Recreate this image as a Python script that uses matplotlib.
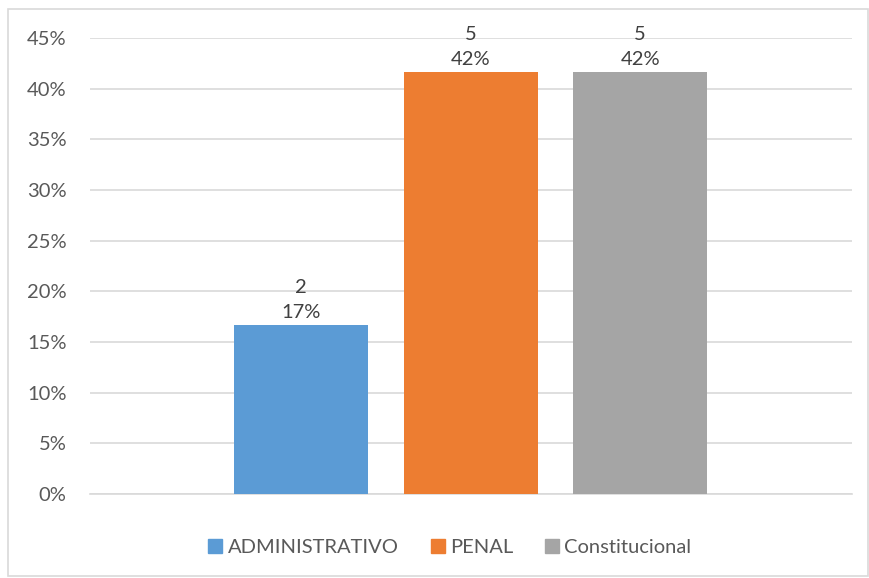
import matplotlib
matplotlib.use("Agg")
import matplotlib.pyplot as plt
from matplotlib.patches import Rectangle
from matplotlib.lines import Line2D

categories = ["ADMINISTRATIVO", "PENAL", "Constitucional"]
counts = [2, 5, 5]
percents = [2/12, 5/12, 5/12]
pct_labels = ["17%", "42%", "42%"]
colors = ["#5B9BD5", "#ED7D31", "#A5A5A5"]
yticks = [0, 0.05, 0.10, 0.15, 0.20, 0.25, 0.30, 0.35, 0.40, 0.45]

plt.rcParams['font.family'] = ['Lato', 'DejaVu Sans']
fig = plt.figure(figsize=(8.7, 5.78), dpi=100)
ax = fig.add_axes([90/870, 1-494/578, (852-90)/870, (494-38)/578])

xs = [-1, 0, 1]
for x, v, c, n, p, lab in zip(xs, percents, colors, counts, pct_labels, categories):
    ax.bar(x, v, width=0.79, color=c, zorder=3, label=lab)
    ax.text(x, v + 0.004, f"{n}\n{p}", ha="center", va="bottom", fontsize=14.5,
            color="#404040", linespacing=1.55, zorder=4)

ax.set_xlim(-2.245, 2.25)
ax.set_ylim(0, 0.45)
ax.set_yticks(yticks)
ax.set_yticklabels([f"{int(round(t*100))}%" for t in yticks], fontsize=14.5, color="#595959")
ax.set_xticks([])
ax.grid(axis="y", color="#D9D9D9", linewidth=1.2, zorder=0)
for s in ["top", "right", "left"]:
    ax.spines[s].set_visible(False)
ax.spines["bottom"].set_color("#D9D9D9")
ax.spines["bottom"].set_linewidth(1.2)
ax.tick_params(axis="y", length=0, pad=17)

handles = [Line2D([0], [0], marker="s", linestyle="none", markersize=10,
                  markerfacecolor=c, markeredgecolor=c) for c in colors]
fig.legend(handles, categories, loc="center", bbox_to_anchor=(449/870, 1-547/578),
           ncol=3, frameon=False, fontsize=14.5, handletextpad=0.15, columnspacing=1.5,
           labelcolor="#595959", handlelength=0.9)

fig.patches.append(Rectangle((8/870, 1-576/578), (868-8)/870, (576-9)/578,
                             transform=fig.transFigure, fill=False,
                             edgecolor="#D9D9D9", linewidth=1.2))
fig.savefig("out.png", dpi=100, facecolor="white")
